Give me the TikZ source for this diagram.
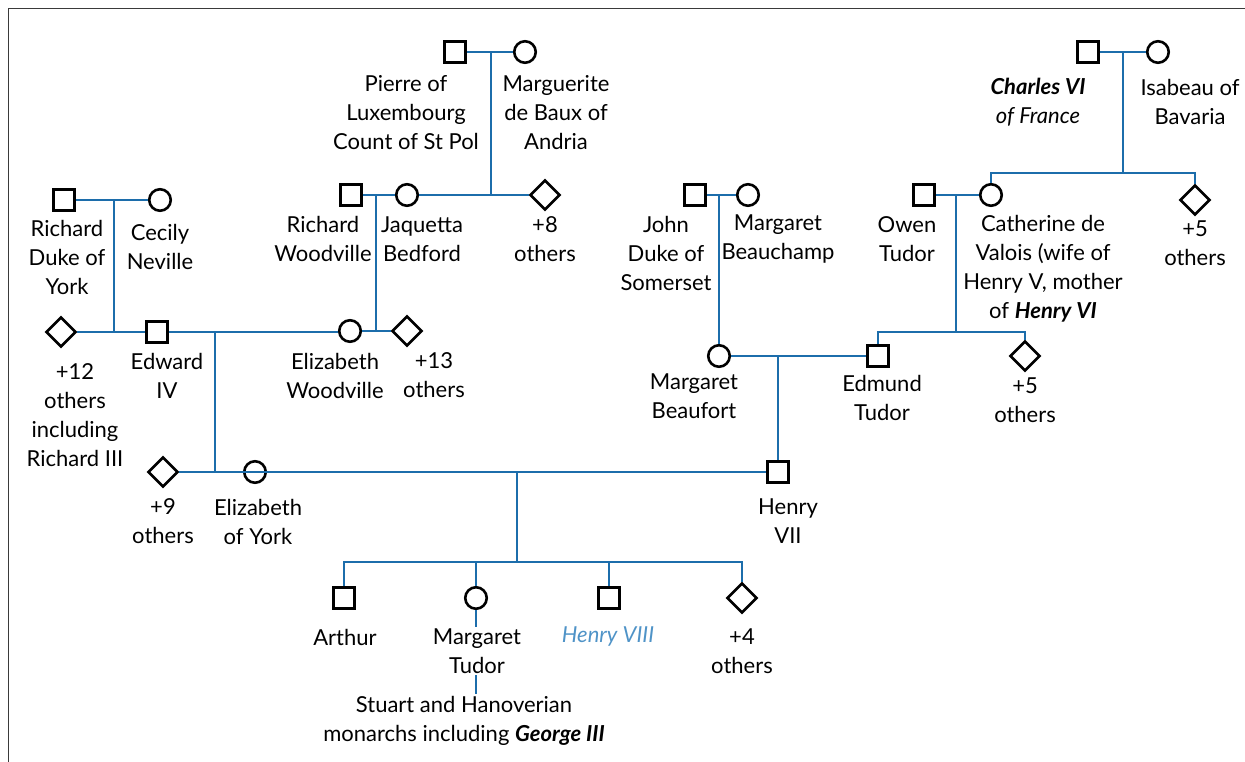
\documentclass[tikz,border=0pt]{standalone}
\usepackage{fontspec}
\setmainfont{Lato}
\usetikzlibrary{shapes.geometric}
\definecolor{linkblue}{HTML}{1C6DAB}
\definecolor{kingblue}{HTML}{4F93C7}
\definecolor{framegray}{HTML}{3A3A3A}
\tikzset{
  link/.style={draw=linkblue, line width=2.9pt},
  male/.style={rectangle, draw=black, line width=2.6pt, fill=white, minimum size=21.5pt, inner sep=0pt},
  female/.style={circle, draw=black, line width=2.6pt, fill=white, minimum size=21.5pt, inner sep=0pt},
  unknown/.style={diamond, draw=black, line width=2.6pt, fill=white, minimum width=30pt, minimum height=30pt, inner sep=0pt},
  lbl/.style={align=center, font=\fontsize{22}{29}\selectfont, inner sep=2pt, text=black},
}
\begin{document}
\begin{tikzpicture}[x=1pt, y=-1pt]
\useasboundingbox (0,0) rectangle (1245,762);
\draw[framegray, line width=1.8pt] (8.5,762) -- (8.5,8.5) -- (1245,8.5);

% ---- persons ----
\node[male]    (pierre)   at (455,52) {};
\node[female]  (marg)     at (525,52) {};
\node[male]    (charles)  at (1088,52) {};
\node[female]  (isabeau)  at (1158,52) {};

\node[male]    (rdy)      at (64,200) {};
\node[female]  (cecily)   at (160,200) {};
\node[male]    (rw)       at (351,195) {};
\node[female]  (jaq)      at (407,195) {};
\node[unknown] (plus8)    at (545,195) {};
\node[male]    (john)     at (695,195) {};
\node[female]  (beau)     at (748,195) {};
\node[male]    (owen)     at (924,195) {};
\node[female]  (cath)     at (991,195) {};
\node[unknown] (plus5a)   at (1195,200) {};

\node[unknown] (plus12)   at (61,332) {};
\node[male]    (edward)   at (157,332) {};
\node[female]  (ew)       at (350,331) {};
\node[unknown] (plus13)   at (407,331) {};
\node[female]  (mb)       at (719,356) {};
\node[male]    (edmund)   at (878,356) {};
\node[unknown] (plus5b)   at (1025,356) {};

\node[unknown] (plus9)    at (163,472) {};
\node[circle, draw=black, line width=2.6pt, minimum size=21.5pt, inner sep=0pt] (eoy) at (255,472) {};
\node[male]    (h7)       at (778,472) {};

\node[male]    (arthur)   at (344,598) {};
\node[female]  (mt)       at (476,598) {};
\node[male]    (h8)       at (609,598) {};
\node[unknown] (plus4)    at (742,598) {};

% ---- junctions ----
\coordinate (jp) at (491,52);
\coordinate (jc) at (1123,52);
\coordinate (jcb) at (1123,173);
\coordinate (jy) at (114,200);
\coordinate (jw) at (376,195);
\coordinate (jj) at (719,195);
\coordinate (jo) at (956,195);
\coordinate (job) at (956,332);
\coordinate (je) at (215,332);
\coordinate (jm) at (778,356);
\coordinate (jh) at (517,472);
\coordinate (jhb) at (517,562);

% ---- connectors ----
\draw[link] (pierre) -- (marg);
\draw[link] (jp) -- (jp |- jaq);
\draw[link] (jaq) -- (plus8);
\draw[link] (charles) -- (isabeau);
\draw[link] (jc) -- (jcb);
\draw[link] (cath.north) -- (cath |- jcb) -- (plus5a |- jcb) -- (plus5a.north);
\draw[link] (rdy) -- (cecily);
\draw[link] (jy) -- (jy |- plus12);
\draw[link] (rw) -- (jaq);
\draw[link] (jw) -- (jw |- plus13);
\draw[link] (john) -- (beau);
\draw[link] (jj) -- (mb.north);
\draw[link] (owen) -- (cath);
\draw[link] (jo) -- (job);
\draw[link] (edmund.north) -- (edmund |- job) -- (plus5b |- job) -- (plus5b.north);
\draw[link] (plus12) -- (edward);
\draw[link] (edward.east) -- (ew.west |- edward.east);
\draw[link] (ew) -- (plus13);
\draw[link] (je) -- (je |- plus9);
\draw[link] (mb) -- (edmund);
\draw[link] (jm) -- (h7.north);
\draw[link] (plus9) -- (h7);
\draw[link] (jh) -- (jhb);
\draw[link] (arthur.north) -- (arthur |- jhb) -- (plus4 |- jhb) -- (plus4.north);
\draw[link] (mt.north) -- (mt |- jhb);
\draw[link] (h8.north) -- (h8 |- jhb);

% ---- labels ----
\node[lbl] (lpierre) at (406,112.5) {Pierre of\\Luxembourg\\Count of St Pol};
\node[lbl] (lmarg) at (556,112.5) {Marguerite\\de Baux of\\Andria};
\node[lbl] (lcharles) at (1038,102.5) {\textbf{\textit{Charles VI}}\\\textit{of France}};
\node[lbl] (lisabeau) at (1190,101.5) {Isabeau of\\Bavaria};
\node[lbl] (lrdy) at (67,257) {Richard\\Duke of\\York};
\node[lbl] (lcecily) at (160,246.5) {Cecily\\Neville};
\node[lbl] (lrw) at (323,239) {Richard\\Woodville};
\node[lbl] (ljaq) at (422,239) {Jaquetta\\Bedford};
\node[lbl] (lplus8) at (545,239) {+8\\others};
\node[lbl] (ljohn) at (666,253.5) {John\\Duke of\\Somerset};
\node[lbl] (lbeau) at (778,239) {Margaret\\Beauchamp};
\node[lbl] (lowen) at (907,239) {Owen\\Tudor};
\node[lbl] (lcath) at (1043,268.5) {Catherine de\\Valois (wife of\\Henry V, mother\\of \textbf{\textit{Henry VI}}};
\node[lbl] (lplus5a) at (1195,243.5) {+5\\others};
\node[lbl] (lplus12) at (75,415) {+12\\others\\including\\Richard III};
\node[lbl] (ledward) at (167,375.5) {Edward\\IV};
\node[lbl] (lew) at (335,376) {Elizabeth\\Woodville};
\node[lbl] (lplus13) at (434,375.5) {+13\\others};
\node[lbl] (lmb) at (694,396) {Margaret\\Beaufort};
\node[lbl] (ledmund) at (882,397.5) {Edmund\\Tudor};
\node[lbl] (lplus5b) at (1025,400.5) {+5\\others};
\node[lbl] (lplus9) at (163,521) {+9\\others};
\node[lbl] (leoy) at (258,521.5) {Elizabeth\\of York};
\node[lbl] (lh7) at (788,521.5) {Henry\\VII};
\node[lbl] (larthur) at (345,637) {Arthur};
\node[lbl] (lh8) at (608,637) {\textcolor{kingblue}{\textit{Henry VIII}}};
\node[lbl] (lplus4) at (742,651) {+4\\others};
\node[lbl] (lstuart) at (464,721) {Stuart and Hanoverian\\monarchs including \textbf{\textit{George III}}};
\draw[link] (mt.south) -- (mt |- lstuart.north);
\node[lbl, fill=white] (lmt) at (477,651) {Margaret\\Tudor};
\end{tikzpicture}
\end{document}
